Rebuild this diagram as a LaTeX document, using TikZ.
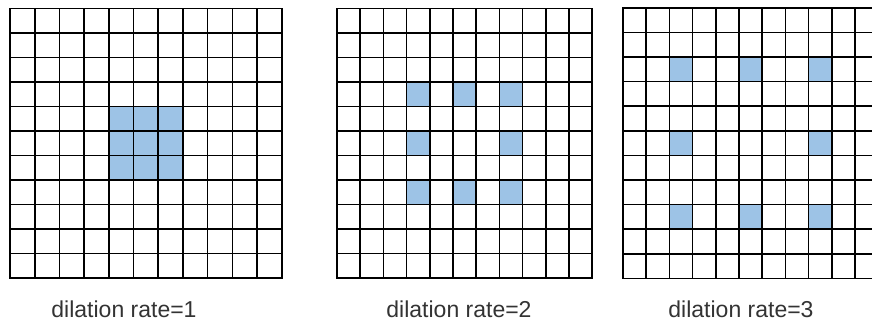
\documentclass[tikz,border=0pt]{standalone}
\usepackage{fontspec}
\setmainfont{Liberation Sans}
\definecolor{dilblue}{RGB}{157,195,230}
\tikzset{
  cellline/.style={line width=1.6pt, line cap=rect},
  hole/.style={fill=dilblue},
  caption/.style={anchor=base, text=black!80, font=\fontsize{23}{27}\selectfont},
}
\begin{document}
\begin{tikzpicture}[x=1pt, y=-1pt]
  \useasboundingbox (0,0) rectangle (872,327);
  \clip (0,0) rectangle (872,327);

  % rate 1
  \begin{scope}[shift={(10,8.3)}, x=24.7pt, y=-24.5pt]
    \foreach \i in {4,5,6}
      \foreach \j in {4,5,6}
        \fill[hole] (\i,\j) rectangle ++(1,1);
    \foreach \k in {0,...,11} {
      \draw[cellline] (\k,0) -- (\k,11);
      \draw[cellline] (0,\k) -- (11,\k);
    }
  \end{scope}

  % rate 2
  \begin{scope}[shift={(337,8.3)}, x=23.2pt, y=-24.5pt]
    \foreach \i/\j in {3/3,5/3,7/3,3/5,7/5,3/7,5/7,7/7}
      \fill[hole] (\i,\j) rectangle ++(1,1);
    \foreach \k in {0,...,11} {
      \draw[cellline] (\k,0) -- (\k,11);
      \draw[cellline] (0,\k) -- (11,\k);
    }
  \end{scope}

  % rate 3
  \begin{scope}[shift={(623,7.8)}, x=23.2pt, y=-24.6pt]
    \foreach \i/\j in {2/2,5/2,8/2,2/5,8/5,2/8,5/8,8/8}
      \fill[hole] (\i,\j) rectangle ++(1,1);
    \foreach \k in {0,...,11} {
      \draw[cellline] (\k,0) -- (\k,11);
      \draw[cellline] (0,\k) -- (11,\k);
    }
  \end{scope}

  \node[caption] (cap1) at (124,317) {dilation rate=1};
  \node[caption] (cap2) at (459,317) {dilation rate=2};
  \node[caption] (cap3) at (741,317) {dilation rate=3};
\end{tikzpicture}
\end{document}
